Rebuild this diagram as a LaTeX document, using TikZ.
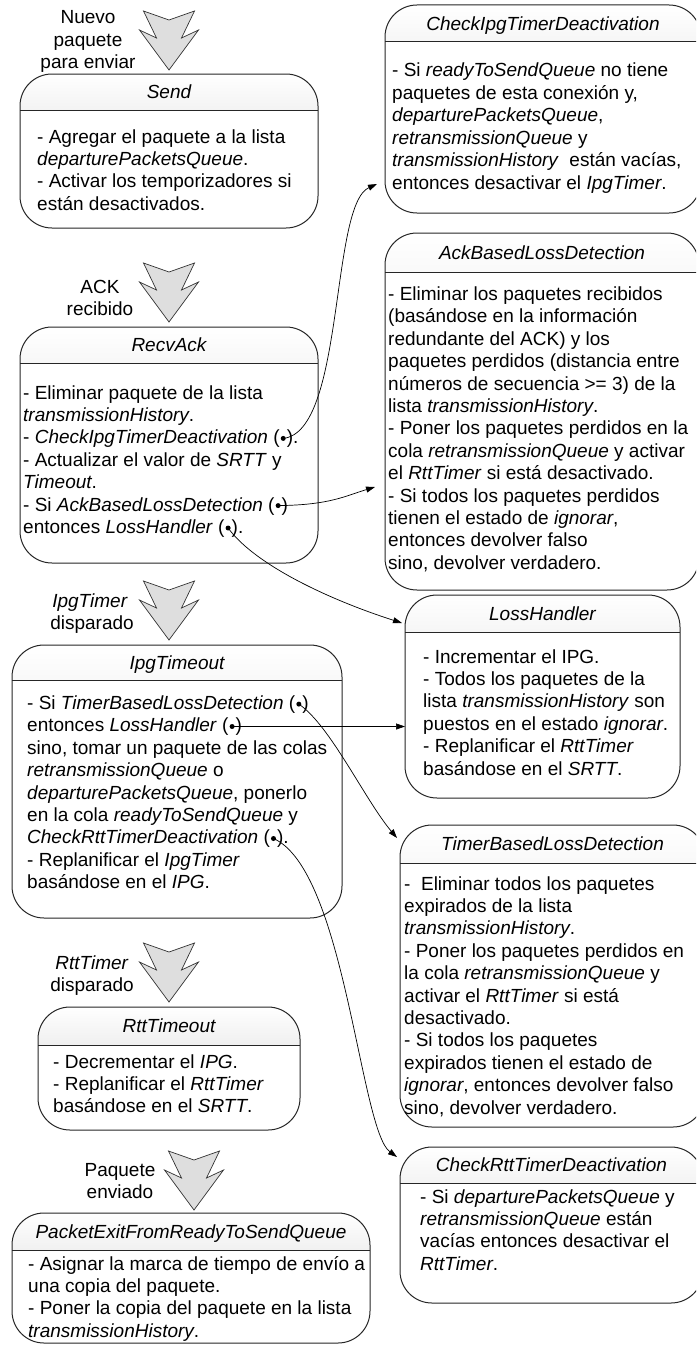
\documentclass[tikz,border=0pt]{standalone}
\usepackage{fontspec}
\setmainfont{Liberation Sans}
\usetikzlibrary{arrows.meta}
\newcommand\bodyfont{\fontsize{19pt}{22.4pt}\selectfont}
% one text line that ends in "(•)": text, dot node, closing part
\newcommand\dotline[5]{%
  \node[ln] (#1) at (#2,#3) {#4 (};
  \node[dotn] (#1-dot) at ([xshift=3.4pt,yshift=5.4pt]#1.base east) {};
  \node[ln] (#1-end) at ([xshift=6.8pt]#1.base east) {)#5};}
\tikzset{
  fsmbox/.style={draw=black!85, line width=1pt, rounded corners=32pt, fill=white,
    inner sep=0pt, outer sep=0pt, anchor=north west,
    path picture={
      \shade[sharp corners, top color=white, bottom color=black!20]
        (path picture bounding box.north west) rectangle
        ([yshift=-#1]path picture bounding box.north east);
      \draw[sharp corners, black!85, line width=1pt]
        ([yshift=-#1]path picture bounding box.north west) --
        ([yshift=-#1]path picture bounding box.north east);}},
  hdr/.style={anchor=base, inner sep=0pt, font=\bodyfont\itshape},
  ln/.style={anchor=base west, inner sep=0pt},
  lbl/.style={anchor=base, inner sep=0pt},
  chev/.style={fill=black!13, draw=black!80, line width=0.7pt, line join=miter},
  conn/.style={line width=0.7pt, -{Triangle[length=9pt,width=6pt]}},
  dotn/.style={circle, fill=black, inner sep=0pt, minimum size=5pt},
  chevron/.pic={\draw[chev] (-25.5,-59) -- (0,-50) -- (25.5,-59) -- (12.5,-32)
      -- (29.5,-40) -- (0,0) -- (-29.5,-40) -- (-12.5,-32) -- cycle;}
}
\begin{document}
\begin{tikzpicture}[x=1pt, y=-1pt, every node/.style={font=\bodyfont}]
\useasboundingbox (0,0) rectangle (696,1346);
\clip (0,0) rectangle (696,1346);

% ---------------- Send
\pic at (169,70) {chevron};
\node[lbl] (l1a) at (88,24) {Nuevo};
\node[lbl] (l1b) at (88,46.4) {paquete};
\node[lbl] (l1c) at (88,68.8) {para enviar};
\node[fsmbox=36pt, minimum width=298pt, minimum height=154pt] (send) at (20,74) {};
\node[hdr] (send-h) at ([yshift=-24.8pt]send.north) {Send};
\foreach \t [count=\i from 0] in {{- Agregar el paquete a la lista},
    {\textit{departurePacketsQueue}.},{- Activar los temporizadores si},
    {están desactivados.}}
  \node[ln] (send-\i) at (37,{143+22.4*\i}) {\t};

% ---------------- RecvAck
\pic at (169,322) {chevron};
\node[lbl] (l2a) at (100,293) {ACK};
\node[lbl] (l2b) at (100,315.5) {recibido};
\node[fsmbox=36pt, minimum width=298pt, minimum height=236pt] (recv) at (20,327) {};
\node[hdr] (recv-h) at ([yshift=-24.8pt]recv.north) {RecvAck};
\node[ln] (recv-0) at (23,399) {- Eliminar paquete de la lista};
\node[ln] (recv-1) at (23,421.4) {\textit{transmissionHistory}.};
\dotline{recv-2}{23}{443.8}{- \textit{CheckIpgTimerDeactivation}}{.}
\node[ln] (recv-3) at (23,466.2) {- Actualizar el valor de \textit{SRTT} y};
\node[ln] (recv-4) at (23,488.6) {\textit{Timeout}.};
\dotline{recv-5}{23}{511}{- Si \textit{AckBasedLossDetection}}{}
\dotline{recv-6}{23}{533.4}{entonces \textit{LossHandler}}{.}

% ---------------- IpgTimeout
\pic at (169,640) {chevron};
\node[lbl] (l3a) at (90,607.5) {\textit{IpgTimer}};
\node[lbl] (l3b) at (92,629.5) {disparado};
\node[fsmbox=35pt, minimum width=330pt, minimum height=273pt] (ipgt) at (12,645) {};
\node[hdr] (ipgt-h) at ([yshift=-24.3pt]ipgt.north) {IpgTimeout};
\dotline{ipgt-0}{27}{709.5}{- Si \textit{TimerBasedLossDetection}}{}
\dotline{ipgt-1}{27}{731.9}{entonces \textit{LossHandler}}{}
\node[ln] (ipgt-2) at (27,754.3) {sino, tomar un paquete de las colas};
\node[ln] (ipgt-3) at (27,776.7) {\textit{retransmissionQueue} o};
\node[ln] (ipgt-4) at (27,799.1) {\textit{departurePacketsQueue}, ponerlo};
\node[ln] (ipgt-5) at (27,821.5) {en la cola \textit{readyToSendQueue} y};
\dotline{ipgt-6}{27}{843.9}{\textit{CheckRttTimerDeactivation}}{.}
\node[ln] (ipgt-7) at (27,866.3) {- Replanificar el \textit{IpgTimer}};
\node[ln] (ipgt-8) at (27,888.7) {basándose en el \textit{IPG}.};

% ---------------- RttTimeout
\pic at (169,1002) {chevron};
\node[lbl] (l4a) at (92,969.5) {\textit{RttTimer}};
\node[lbl] (l4b) at (92,991) {disparado};
\node[fsmbox=38pt, minimum width=262pt, minimum height=123pt] (rttt) at (38,1007) {};
\node[hdr] (rttt-h) at ([yshift=-25.8pt]rttt.north) {RttTimeout};
\foreach \t [count=\i from 0] in {{- Decrementar el \textit{IPG}.},
    {- Replanificar el \textit{RttTimer}},{basándose en el \textit{SRTT}.}}
  \node[ln] (rttt-\i) at (53,{1068+22.4*\i}) {\t};

% ---------------- PacketExitFromReadyToSendQueue
\pic at (194,1210) {chevron};
\node[lbl] (l5a) at (120,1176.5) {Paquete};
\node[lbl] (l5b) at (120,1198) {enviado};
\node[fsmbox=37pt, minimum width=358pt, minimum height=130pt] (pexit) at (12,1213) {};
\node[hdr] (pexit-h) at ([yshift=-25.3pt]pexit.north) {PacketExitFromReadyToSendQueue};
\foreach \t [count=\i from 0] in {{- Asignar la marca de tiempo de envío a},
    {una copia del paquete.},{- Poner la copia del paquete en la lista},
    {\textit{transmissionHistory}.}}
  \node[ln] (pexit-\i) at (28,{1270+22.4*\i}) {\t};

% ---------------- CheckIpgTimerDeactivation
\node[fsmbox=37pt, minimum width=316pt, minimum height=208pt] (cipg) at (385,5) {};
\node[hdr] (cipg-h) at ([yshift=-25.3pt]cipg.north) {CheckIpgTimerDeactivation};
\foreach \t [count=\i from 0] in {{- Si \textit{readyToSendQueue} no tiene},
    {paquetes de esta conexión y,},{\textit{departurePacketsQueue},},
    {\textit{retransmissionQueue} y},{\textit{transmissionHistory}\ \ están vacías,},
    {entonces desactivar el \textit{IpgTimer}.}}
  \node[ln] (cipg-\i) at (392,{77+22.4*\i}) {\t};

% ---------------- AckBasedLossDetection
\node[fsmbox=39pt, minimum width=314pt, minimum height=357pt] (ackb) at (385,233) {};
\node[hdr] (ackb-h) at ([yshift=-26.3pt]ackb.north) {AckBasedLossDetection};
\foreach \t [count=\i from 0] in {{- Eliminar los paquetes recibidos},
    {(basándose en la información},{redundante del ACK) y los},
    {paquetes perdidos (distancia entre},{números de secuencia >= 3) de la},
    {lista \textit{transmissionHistory}.},{- Poner los paquetes perdidos en la},
    {cola \textit{retransmissionQueue} y activar},{el \textit{RttTimer} si está desactivado.},
    {- Si todos los paquetes perdidos},{tienen el estado de \textit{ignorar},},
    {entonces devolver falso},{sino, devolver verdadero.}}
  \node[ln] (ackb-\i) at (388,{300.5+22.4*\i}) {\t};

% ---------------- LossHandler
\node[fsmbox=37pt, minimum width=275pt, minimum height=203pt] (loss) at (405,595) {};
\node[hdr] (loss-h) at ([yshift=-25.3pt]loss.north) {LossHandler};
\foreach \t [count=\i from 0] in {{- Incrementar el IPG.},
    {- Todos los paquetes de la},{lista \textit{transmissionHistory} son},
    {puestos en el estado \textit{ignorar}.},{- Replanificar el \textit{RttTimer}},
    {basándose en el \textit{SRTT}.}}
  \node[ln] (loss-\i) at (423,{663+22.4*\i}) {\t};

% ---------------- TimerBasedLossDetection
\node[fsmbox=38pt, minimum width=305pt, minimum height=302pt] (tbl) at (400,825) {};
\node[hdr] (tbl-h) at ([yshift=-25.8pt]tbl.north) {TimerBasedLossDetection};
\foreach \t [count=\i from 0] in {{-\ \ Eliminar todos los paquetes},
    {expirados de la lista},{\textit{transmissionHistory}.},
    {- Poner los paquetes perdidos en},{la cola \textit{retransmissionQueue} y},
    {activar el \textit{RttTimer} si está},{desactivado.},{- Si todos los paquetes},
    {expirados tienen el estado de},{\textit{ignorar}, entonces devolver falso},
    {sino, devolver verdadero.}}
  \node[ln] (tbl-\i) at (404,{890+22.4*\i}) {\t};

% ---------------- CheckRttTimerDeactivation
\node[fsmbox=36pt, minimum width=303pt, minimum height=156pt] (crtt) at (400,1147) {};
\node[hdr] (crtt-h) at ([yshift=-24.8pt]crtt.north) {CheckRttTimerDeactivation};
\foreach \t [count=\i from 0] in {{- Si \textit{departurePacketsQueue} y},
    {\textit{retransmissionQueue} están},{vacías entonces desactivar el},
    {\textit{RttTimer}.}}
  \node[ln] (crtt-\i) at (420,{1203+22.4*\i}) {\t};

% ---------------- calls between procedures
\draw[conn] (recv-2-dot.center) .. controls (345,432) and (330,205)
  .. ([xshift=-8pt,yshift=29pt]cipg.south west);
\draw[conn] (recv-5-dot.center) .. controls (330,505) and (345,496)
  .. ([xshift=-10pt,yshift=-254pt]ackb.north west);
\draw[conn] (recv-6-dot.center) .. controls (255,565) and (330,600)
  .. ([xshift=-3pt,yshift=-28pt]loss.north west);
\draw[conn] (ipgt-0-dot.center) .. controls (330,725) and (365,800)
  .. ([xshift=-3pt,yshift=-13pt]tbl.north west);
\draw[conn] (ipgt-1-dot.center) -- (ipgt-1-dot.center -| loss.west);
\draw[conn] (ipgt-6-dot.center) .. controls (345,870) and (360,1130)
  .. ([xshift=-3pt,yshift=-10pt]crtt.north west);
\end{tikzpicture}
\end{document}
